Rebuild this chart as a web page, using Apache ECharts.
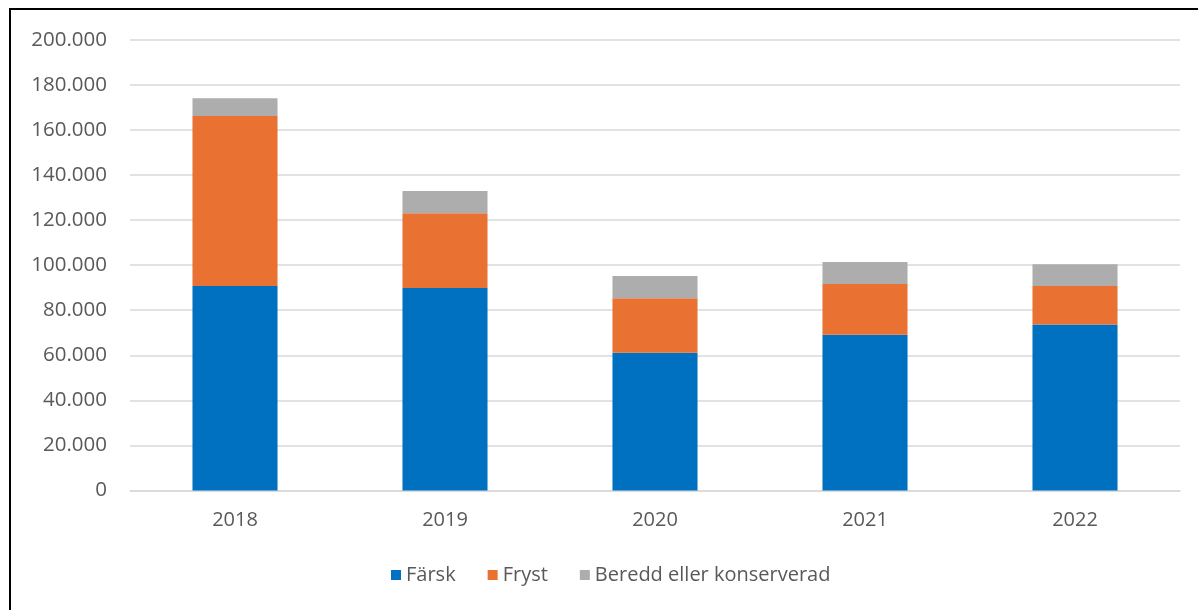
<!DOCTYPE html>
<html><head><meta charset="utf-8">
<script src="https://cdn.jsdelivr.net/npm/echarts@6/dist/echarts.min.js"></script>
<style>
html,body{margin:0;padding:0;background:#fff;overflow:hidden}
#frame{position:absolute;left:9px;top:8px;width:1300px;height:700px;border-left:2px solid #000;border-top:2px solid #000;box-sizing:border-box}
#c{position:absolute;left:0;top:0;width:1198px;height:610px}
</style></head>
<body>
<div id="c"></div>
<div id="frame"></div>
<script>
const categories = ['2018','2019','2020','2021','2022'];
const farsk = [90700, 89800, 61100, 69100, 73700];
const fryst = [75400, 33200, 24200, 22500, 17000];
const beredd = [7900, 9900, 9900, 9800, 9700];
const seriesNames = ['Färsk','Fryst','Beredd eller konserverad'];
const colors = ['#0070C0','#E97132','#ADADAD'];

const fmt = v => String(v).replace(/\B(?=(\d{3})+(?!\d))/g, '.');
const chart = echarts.init(document.getElementById('c'));
const font = "'Open Sans', 'Noto Sans', sans-serif";
chart.setOption({
  animation:false,
  color: colors,
  grid:{left:130, right:18, top:39.7, bottom:119.5, containLabel:false},
  legend:{
    top:560, left:386, itemWidth:10, itemHeight:10, itemGap:32,
    icon:'rect',
    textStyle:{color:'#595959', fontSize:20, fontFamily:font}
  },
  xAxis:{
    type:'category', data:categories,
    axisLine:{lineStyle:{color:'#D9D9D9', width:1.5}},
    axisTick:{show:false},
    axisLabel:{color:'#595959', fontSize:20, fontFamily:font, margin:20}
  },
  yAxis:{
    type:'value', min:0, max:200000, interval:20000,
    axisLine:{show:false}, axisTick:{show:false},
    splitLine:{lineStyle:{color:'#D9D9D9', width:1.5}},
    axisLabel:{color:'#595959', fontSize:20.5, fontFamily:font, margin:23, formatter:fmt}
  },
  series:[
    {name:seriesNames[0], type:'bar', stack:'a', data:farsk, barWidth:'40.5%'},
    {name:seriesNames[1], type:'bar', stack:'a', data:fryst, barWidth:'40.5%'},
    {name:seriesNames[2], type:'bar', stack:'a', data:beredd, barWidth:'40.5%'}
  ]
});
</script>
</body></html>
